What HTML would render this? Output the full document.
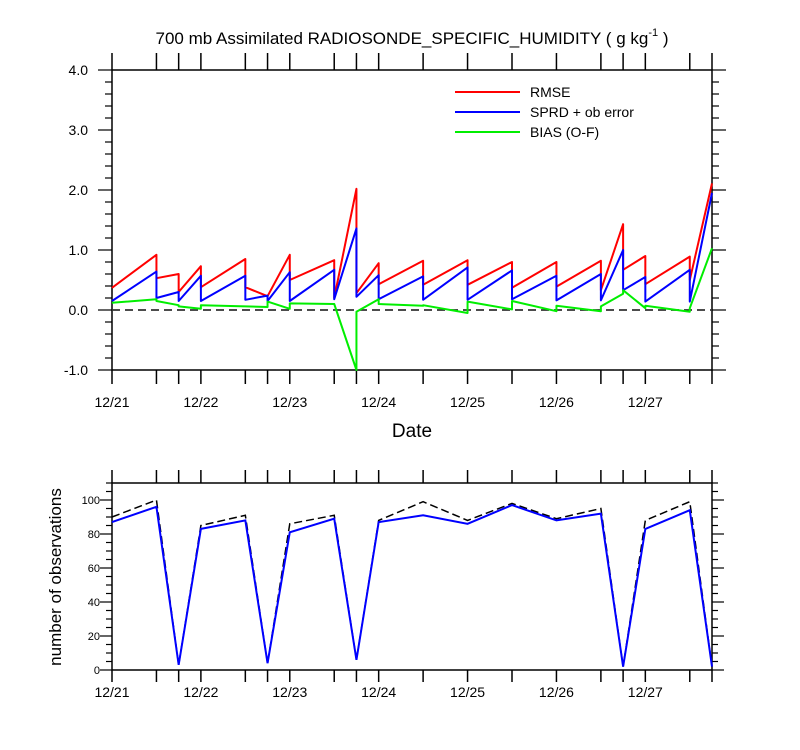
<!DOCTYPE html>
<html><head><meta charset="utf-8">
<style>
html,body{margin:0;padding:0;background:#fff;}
svg{display:block;font-family:"Liberation Sans",Arial,sans-serif;}
</style></head>
<body>
<svg id="chart" width="800" height="750" viewBox="0 0 800 750" xmlns="http://www.w3.org/2000/svg">
<text x="412" y="44" font-size="17" text-anchor="middle">700 mb Assimilated RADIOSONDE_SPECIFIC_HUMIDITY ( g kg<tspan font-size="11" dy="-8">-1</tspan><tspan dy="8"> )</tspan></text>
<text x="412" y="437" font-size="19" text-anchor="middle">Date</text>
<text x="0" y="0" font-size="17" text-anchor="middle" transform="translate(61,577) rotate(-90)">number of observations</text>
<g>
<line x1="455" y1="92" x2="520" y2="92" stroke="#ff0000" stroke-width="2"/>
<text x="530" y="97" font-size="14">RMSE</text>
<line x1="455" y1="112" x2="520" y2="112" stroke="#0000ff" stroke-width="2"/>
<text x="530" y="117" font-size="14">SPRD + ob error</text>
<line x1="455" y1="132" x2="520" y2="132" stroke="#00ee00" stroke-width="2"/>
<text x="530" y="137" font-size="14">BIAS (O-F)</text>
</g>
<g id="topPanel"></g>
<g id="botPanel"></g>
</svg>
<script>
// time points in days since 12/21 00Z
const times = [0,0.5,0.75,1,1.5,1.75,2,2.5,2.75,3,3.5,4,4.5,5,5.5,5.75,6,6.5,6.75];
const dateLabels = ["12/21","12/22","12/23","12/24","12/25","12/26","12/27"];
const yTicksTop = [4.0,3.0,2.0,1.0,0.0,-1.0];
const yTicksBot = [0,20,40,60,80,100];
// sawtooth: value at start of each interval and at end
const rmseStart = [0.37,0.53,0.30,0.38,0.38,0.23,0.50,0.20,0.28,0.43,0.42,0.42,0.37,0.39,0.33,0.67,0.43,0.50];
const rmseEnd   = [0.92,0.60,0.73,0.85,0.23,0.92,0.83,2.02,0.78,0.82,0.83,0.80,0.80,0.82,1.43,0.90,0.89,2.11];
const sprdStart = [0.15,0.20,0.15,0.15,0.17,0.15,0.15,0.18,0.22,0.18,0.17,0.17,0.18,0.16,0.16,0.33,0.14,0.14];
const sprdEnd   = [0.64,0.30,0.57,0.57,0.24,0.63,0.67,1.36,0.58,0.56,0.71,0.66,0.57,0.60,1.00,0.55,0.67,1.95];
const biasStart = [0.12,0.15,0.06,0.08,0.06,0.14,0.11,0.10,-0.03,0.10,0.08,0.14,0.15,0.07,0.06,0.33,0.07,0.03];
const biasEnd   = [0.18,0.08,0.02,0.06,0.05,0.02,0.10,-1.00,0.18,0.07,-0.05,0.01,-0.02,-0.02,0.27,0.03,-0.03,1.03];
const obsUsed   = [87,96,3,83,88,4,81,89,6,87,91,86,97,88,92,2,83,94,2];
const obsTotal  = [90,100,3,85,91,4,86,91,6,88,99,88,98,89,95,2,88,99,2];

const NS="http://www.w3.org/2000/svg";
const X0=112,X1=712;
const xs=d=>X0+(d/6.75)*(X1-X0);
const yt=v=>310-v*60;
const yb=v=>670-v*1.7;
function mk(parent,tag,attrs){const e=document.createElementNS(NS,tag);for(const k in attrs)e.setAttribute(k,attrs[k]);parent.appendChild(e);return e;}
const topG=document.getElementById('topPanel'), botG=document.getElementById('botPanel');

function frame(g,yTop,yBot,name){
  const r=mk(g,'rect',{x:X0,y:yTop,width:X1-X0,height:yBot-yTop,fill:'none',stroke:'#000','stroke-width':1.5});
  
  
}
// top panel
frame(topG,70,370,'top-plot-frame');
for(let v=-1;v<=4.0001;v+=0.2){
  const major=Math.abs(v-Math.round(v))<1e-6;
  const L=major?14:7,y=yt(v);
  mk(topG,'line',{x1:X0-L,y1:y,x2:X0,y2:y,stroke:'#000','stroke-width':1.2});
  mk(topG,'line',{x1:X1,y1:y,x2:X1+L,y2:y,stroke:'#000','stroke-width':1.2});
}
yTicksTop.forEach(v=>{const t=mk(topG,'text',{x:88,y:yt(v)+5,'font-size':14,'text-anchor':'end'});t.textContent=v.toFixed(1);

});
times.forEach(d=>{const x=xs(d);
  mk(topG,'line',{x1:x,y1:370,x2:x,y2:384,stroke:'#000','stroke-width':1.5});
  mk(topG,'line',{x1:x,y1:53,x2:x,y2:70,stroke:'#000','stroke-width':1.5});
  mk(botG,'line',{x1:x,y1:670,x2:x,y2:682,stroke:'#000','stroke-width':1.5});
  mk(botG,'line',{x1:x,y1:470,x2:x,y2:483,stroke:'#000','stroke-width':1.5});
});
dateLabels.forEach((s,i)=>{
  let t=mk(topG,'text',{x:xs(i),y:407,'font-size':14,'text-anchor':'middle'});t.textContent=s;
  
  
  t=mk(botG,'text',{x:xs(i),y:697,'font-size':14,'text-anchor':'middle'});t.textContent=s;
  
  
});
const zl=mk(topG,'line',{x1:X0,y1:yt(0),x2:X1,y2:yt(0),stroke:'#333','stroke-width':1.8,'stroke-dasharray':'8,5'});


function saw(st,en,col,name){
  let p=[];
  for(let i=0;i<st.length;i++){p.push(xs(times[i])+','+yt(st[i]));p.push(xs(times[i+1])+','+yt(en[i]));}
  const e=mk(topG,'polyline',{points:p.join(' '),fill:'none',stroke:col,'stroke-width':2,'stroke-linejoin':'round'});
  
  
}
saw(rmseStart,rmseEnd,'#ff0000','rmse-line');
saw(sprdStart,sprdEnd,'#0000ff','sprd-line');
saw(biasStart,biasEnd,'#00ee00','bias-line');

// bottom panel
frame(botG,483,670,'bottom-plot-frame');
for(let v=0;v<=110;v+=5){
  const major=v%20===0,L=major?12:6,y=yb(v);
  mk(botG,'line',{x1:X0-L,y1:y,x2:X0,y2:y,stroke:'#000','stroke-width':1.2});
  mk(botG,'line',{x1:X1,y1:y,x2:X1+L,y2:y,stroke:'#000','stroke-width':1.2});
}
yTicksBot.forEach(v=>{const t=mk(botG,'text',{x:100,y:yb(v)+4,'font-size':11,'text-anchor':'end'});t.textContent=v;

});
const tl=mk(botG,'polyline',{points:obsTotal.map((v,i)=>xs(times[i])+','+yb(v)).join(' '),fill:'none',stroke:'#000','stroke-width':1.5,'stroke-dasharray':'8,4'});


const ul=mk(botG,'polyline',{points:obsUsed.map((v,i)=>xs(times[i])+','+yb(v)).join(' '),fill:'none',stroke:'#0000ff','stroke-width':2});


</script>
</body></html>
